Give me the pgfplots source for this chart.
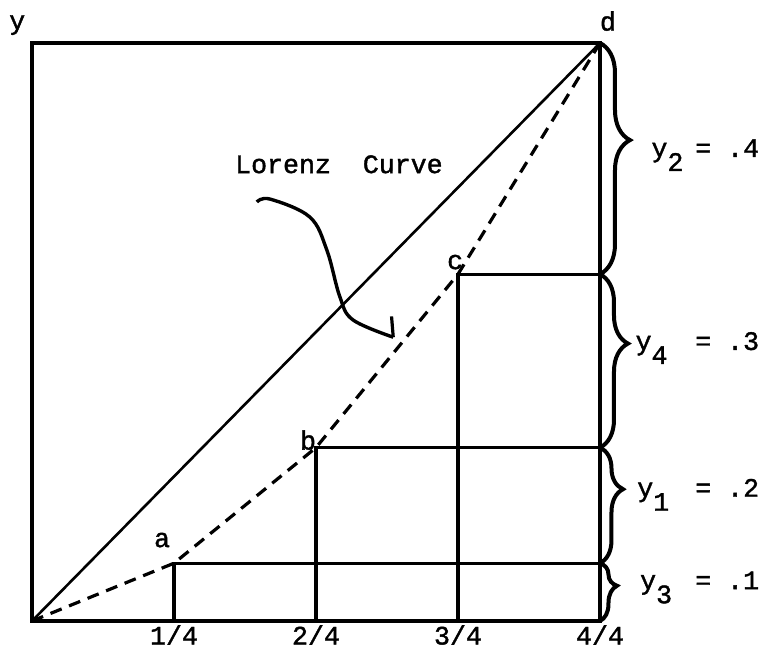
\documentclass[border=0pt]{standalone}
\usepackage{fontspec}
\setmainfont{Liberation Mono}[UprightFeatures={FakeBold=1.5}]
\usepackage{pgfplots}
\pgfplotsset{compat=1.18}
\usetikzlibrary{decorations.pathreplacing}

\begin{document}
\begin{tikzpicture}[font=\fontsize{13.3pt}{16pt}\selectfont]
\begin{axis}[
  scale only axis, width=284pt, height=289pt,
  xmin=0, xmax=1, ymin=0, ymax=1,
  axis line style={line width=1.7pt},
  xtick={0.25,0.5,0.75,1}, xticklabels={1/4,2/4,3/4,4/4},
  ytick=\empty, major tick length=0pt,
  xticklabel style={anchor=center, yshift=-7pt, inner sep=0pt},
  clip=false,
]
% diagonal (line of equality)
\addplot[black, line width=1.3pt] coordinates {(0,0) (1,1)};
% Lorenz curve
\addplot[black, line width=1.6pt, dash pattern=on 6pt off 4pt]
  coordinates {(0,0) (0.25,0.1) (0.5,0.3) (0.75,0.6) (1,1)};
% steps
\addplot[black, line width=1.7pt] coordinates {(0.25,0) (0.25,0.1) (1,0.1)};
\addplot[black, line width=1.7pt] coordinates {(0.5,0) (0.5,0.3) (1,0.3)};
\addplot[black, line width=1.7pt] coordinates {(0.75,0) (0.75,0.6) (1,0.6)};

% point labels
\node at (axis cs:-0.026,1.031) {y};
\node at (axis cs:1.014,1.038) {d};
\node at (axis cs:0.229,0.140) {a};
\node at (axis cs:0.486,0.313) {b};
\node at (axis cs:0.745,0.621) {c};

% Lorenz Curve note and arrow
\node[anchor=base west, inner sep=0pt] at (axis cs:0.357,0.775) {Lorenz\ \ Curve};
\draw[line width=1.7pt] plot[smooth, tension=0.6] coordinates {
  (axis cs:0.396,0.725) (axis cs:0.419,0.730) (axis cs:0.489,0.699)
  (axis cs:0.519,0.642) (axis cs:0.542,0.561) (axis cs:0.565,0.521)
  (axis cs:0.636,0.491)};
\draw[line width=1.6pt] (axis cs:0.636,0.491) -- (axis cs:0.633,0.527);

% braces
\draw[decorate, decoration={brace, amplitude=15pt, aspect=0.42}, line width=2pt]
  (axis cs:1,1) -- (axis cs:1,0.6);
\draw[decorate, decoration={brace, amplitude=14pt, aspect=0.40}, line width=2pt]
  (axis cs:1,0.6) -- (axis cs:1,0.3);
\draw[decorate, decoration={brace, amplitude=11.5pt, aspect=0.36}, line width=2pt]
  (axis cs:1,0.3) -- (axis cs:1,0.1);
\draw[decorate, decoration={brace, amplitude=8.5pt, aspect=0.39}, line width=2pt]
  (axis cs:1,0.1) -- (axis cs:1,0);

% brace labels
\node[anchor=base west, inner sep=0pt] at (axis cs:1.090,0.803) {y\raisebox{-7pt}{2}};
\node[anchor=base west, inner sep=0pt] at (axis cs:1.167,0.803) {= .4};
\node[anchor=base west, inner sep=0pt] at (axis cs:1.062,0.469) {y\raisebox{-7pt}{4}};
\node[anchor=base west, inner sep=0pt] at (axis cs:1.167,0.469) {= .3};
\node[anchor=base west, inner sep=0pt] at (axis cs:1.065,0.215) {y\raisebox{-7pt}{1}};
\node[anchor=base west, inner sep=0pt] at (axis cs:1.167,0.215) {= .2};
\node[anchor=base west, inner sep=0pt] at (axis cs:1.070,0.055) {y\raisebox{-7pt}{3}};
\node[anchor=base west, inner sep=0pt] at (axis cs:1.167,0.055) {= .1};
\end{axis}
\path[use as bounding box] ([shift={(-16pt,-14.5pt)}]current axis.south west)
  rectangle ([shift={(84pt,21.5pt)}]current axis.north east);
\end{tikzpicture}
\end{document}
